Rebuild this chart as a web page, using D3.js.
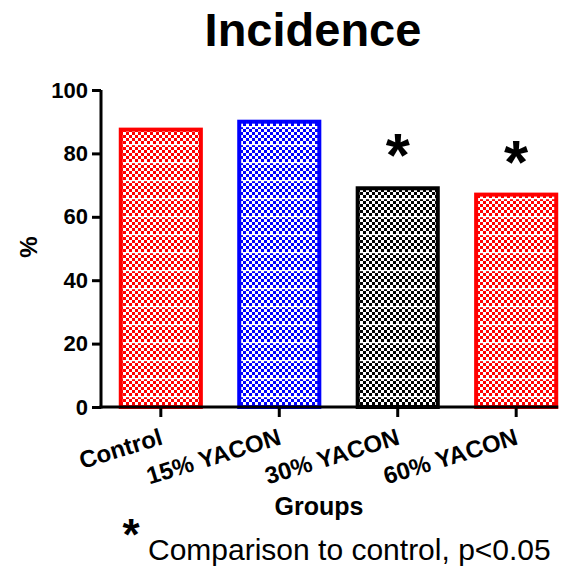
<!DOCTYPE html>
<html>
<head>
<meta charset="utf-8">
<script src="https://cdn.jsdelivr.net/npm/d3@7"></script>
<style>
  body { margin: 0; background: #fff; }
  svg { display: block; font-family: "Liberation Sans", Arial, sans-serif; }
</style>
</head>
<body>
<svg id="chart"></svg>
<script>
// Incidence per group, GraphPad-style bar chart with checker fills

const width = 578, height = 568;

const groups      = ["Control", "15% YACON", "30% YACON", "60% YACON"];
const incidence   = [87.5, 90, 69, 67];
const significant = [false, false, true, true];
const yTicks      = [0, 20, 40, 60, 80, 100];
const colors      = ["#ff0000", "#0000ff", "#000000", "#ff0000"];

const data = groups.map((name, i) => ({
  name, value: incidence[i], sig: significant[i], color: colors[i], i
}));

const svg = d3.select("#chart")
  .attr("width", width)
  .attr("height", height);

// checker patterns, one per bar
const defs = svg.append("defs");
data.forEach(d => {
  const p = defs.append("pattern")
    .attr("id", "pat" + d.i)
    .attr("patternUnits", "userSpaceOnUse")
    .attr("width", 6).attr("height", 18);
  p.append("rect").attr("width", 6).attr("height", 18).attr("fill", "#fff");
  for (let r = 0; r < 6; r++) {
    p.append("rect")
      .attr("x", r % 2 ? 3 : 0).attr("y", r * 3)
      .attr("width", 3).attr("height", 3)
      .attr("fill", d.color);
  }
  p.append("rect").attr("y", 0).attr("width", 6).attr("height", 1.2).attr("fill", "#fff");
});

const x = d3.scaleBand()
  .domain(groups)
  .range([101, 576])
  .paddingInner(0.29)
  .paddingOuter(0.15);

const y = d3.scaleLinear()
  .domain([0, 100])
  .range([407, 90]);

// title
svg.append("text")
  .attr("x", 313).attr("y", 46)
  .attr("text-anchor", "middle")
  .attr("font-size", 47).attr("font-weight", "bold")
  .text("Incidence");

// bars
svg.selectAll("rect.bar")
  .data(data)
  .join("rect")
  .attr("class", "bar")
  .attr("x", d => x(d.name) + 2)
  .attr("width", x.bandwidth() - 4)
  .attr("y", d => y(d.value))
  .attr("height", d => y(0) - y(d.value))
  .attr("fill", d => `url(#pat${d.i})`)
  .attr("stroke", d => d.color)
  .attr("stroke-width", 4);

// significance stars
svg.selectAll("text.star")
  .data(data.filter(d => d.sig))
  .join("text")
  .attr("class", "star")
  .attr("x", d => x(d.name) + x.bandwidth() / 2)
  .attr("y", d => y(d.value) - 12)
  .attr("text-anchor", "middle")
  .attr("font-size", 62).attr("font-weight", "bold")
  .text("*");

// y axis
const yAxis = svg.append("g")
  .attr("transform", "translate(101,0)")
  .call(d3.axisLeft(y).tickValues(yTicks).tickSize(9).tickPadding(4).tickSizeOuter(0));
yAxis.select(".domain").attr("stroke-width", 3).attr("d", `M0,${y(100)}V${y(0) + 1.5}`);
yAxis.selectAll(".tick line").attr("stroke-width", 3);
yAxis.selectAll(".tick text")
  .attr("font-size", 22).attr("font-weight", "bold")
  .attr("font-family", "Liberation Sans, Arial, sans-serif")
  .attr("fill", "#000");

// x axis
const lastEnd = x(groups[groups.length - 1]) + x.bandwidth();
const xAxis = svg.append("g")
  .attr("transform", `translate(0,${y(0)})`)
  .call(d3.axisBottom(x).tickSize(10).tickSizeOuter(0));
xAxis.select(".domain").attr("stroke-width", 3).attr("d", `M${x.range()[0] - 1.5},0H${lastEnd}`);
xAxis.selectAll(".tick line").attr("stroke-width", 3);
xAxis.selectAll(".tick text")
  .attr("font-size", 24).attr("font-weight", "bold")
  .attr("font-family", "Liberation Sans, Arial, sans-serif")
  .attr("fill", "#000")
  .attr("text-anchor", "end")
  .attr("y", 0).attr("dy", 0)
  .attr("transform", "translate(3,37) rotate(-17)");

// axis titles
svg.append("text")
  .attr("transform", "translate(37,247) rotate(-90)")
  .attr("text-anchor", "middle")
  .attr("font-size", 24).attr("font-weight", "bold")
  .text("%");

svg.append("text")
  .attr("x", 319).attr("y", 515)
  .attr("text-anchor", "middle")
  .attr("font-size", 25).attr("font-weight", "bold")
  .text("Groups");

// footnote
svg.append("text")
  .attr("x", 131).attr("y", 550)
  .attr("text-anchor", "middle")
  .attr("font-size", 44).attr("font-weight", "bold")
  .text("*");
svg.append("text")
  .attr("x", 148).attr("y", 560)
  .attr("font-size", 30)
  .text("Comparison to control, p<0.05");
</script>
</body>
</html>
